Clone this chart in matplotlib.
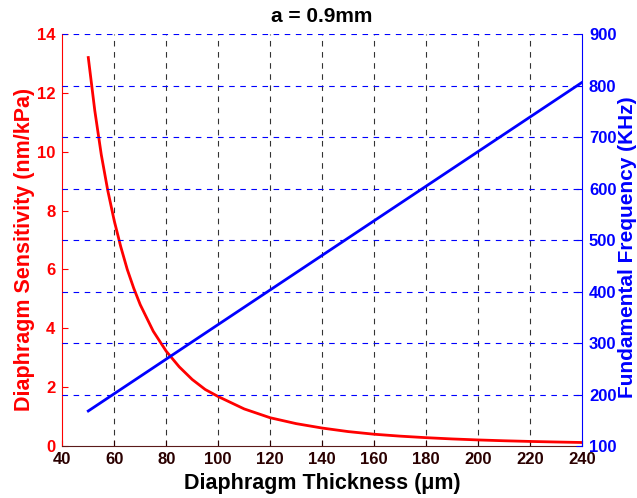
import numpy as np
import matplotlib.pyplot as plt

plt.rcParams['font.family'] = ['Liberation Sans', 'DejaVu Sans']
plt.rcParams['font.weight'] = 'bold'

# values
thickness = [50, 52.5, 55, 57.5, 60, 62.5, 65, 67.5, 70, 75, 80, 85, 90, 95,
             100, 110, 120, 130, 140, 150, 160, 170, 180, 190, 200, 210, 220,
             230, 240]
sensitivity = [13.2, 11.4, 9.9, 8.68, 7.65, 6.77, 6.0, 5.36, 4.8, 3.9, 3.22,
               2.69, 2.26, 1.92, 1.68, 1.26, 0.96, 0.76, 0.61, 0.49, 0.40,
               0.335, 0.283, 0.24, 0.206, 0.178, 0.155, 0.136, 0.119]
freq_thickness = [50, 240]
frequency = [168, 806]

x_ticks = list(range(40, 241, 20))
left_ticks = list(range(0, 15, 2))
right_ticks = list(range(100, 901, 100))

fig = plt.figure(figsize=(6.37, 4.98), dpi=100)
W, H = 637, 498
ax = fig.add_axes([62.3 / W, (H - 446) / H, (582 - 62.3) / W, (446 - 34) / H])
ax2 = ax.twinx()

ax.plot(thickness, sensitivity, color='#ff0000', lw=2)
ax2.plot(freq_thickness, frequency, color='#0000ff', lw=2)

ax.set_xlim(40, 240)
ax.set_ylim(0, 14)
ax2.set_ylim(100, 900)
ax.set_xticks(x_ticks)
ax.set_yticks(left_ticks)
ax2.set_yticks(right_ticks)

# grid: black vertical, blue horizontal (right axis)
for xv in x_ticks[1:-1]:
    ax.axvline(xv, color='black', ls=(0, (5, 5)), lw=0.8, alpha=0.8, zorder=0)
for yv in right_ticks[1:]:
    ax2.axhline(yv, color='#0000ff', ls=(0, (5, 5)), lw=0.8, zorder=0)

ax.tick_params(axis='x', direction='in', colors='#2a0000', labelsize=12, length=4, pad=4)
ax.tick_params(axis='y', direction='in', colors='#ff0000', labelsize=12, length=4, pad=5)
ax2.tick_params(axis='y', direction='in', colors='#0000ff', labelsize=12, length=4, pad=5)
for lab in ax.get_xticklabels() + ax.get_yticklabels() + ax2.get_yticklabels():
    lab.set_fontweight('bold')

ax.spines['left'].set_color('#ff0000')
ax.spines['bottom'].set_color('#5a1a1a')
ax.spines['top'].set_visible(False)
ax.spines['right'].set_visible(False)
ax2.spines['right'].set_color('#0000ff')
ax2.spines['top'].set_visible(False)
ax2.spines['left'].set_visible(False)
ax2.spines['bottom'].set_visible(False)

ax.set_xlabel('Diaphragm Thickness (\u03bcm)', fontsize=15.5, fontweight='bold',
              color='black')
ax.set_ylabel('Diaphragm Sensitivity (nm/kPa)', fontsize=15.5, fontweight='bold',
              color='#ff0000')
ax2.set_ylabel('Fundamental Frequency (KHz)', fontsize=15, fontweight='bold',
               color='#0000ff')
ax.xaxis.set_label_coords(0.5, -(473 - 446) / 412)
ax.yaxis.set_label_coords(-(62.3 - 35) / 519.7, 0.5 - 9 / 412)
ax2.yaxis.set_label_coords(1 + (618 - 582) / 519.7, 0.5 - 7 / 412)
fig.text(0.5 * (62.3 + 582) / W, 1 - 16 / H, 'a = 0.9mm', fontsize=15,
         fontweight='bold', ha='center', va='center')

fig.savefig('out.png', dpi=100)
